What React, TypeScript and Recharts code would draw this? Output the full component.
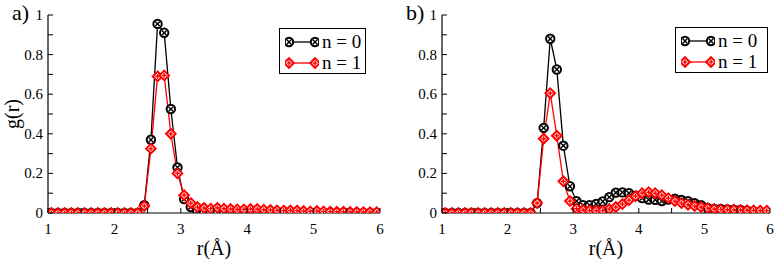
import { LineChart, Line, XAxis, YAxis } from "recharts";

const R = [
  1.05, 1.15, 1.25, 1.35, 1.45, 1.55, 1.65, 1.75, 1.85, 1.95,
  2.05, 2.15, 2.25, 2.35, 2.45, 2.55, 2.65, 2.75, 2.85, 2.95,
  3.05, 3.15, 3.25, 3.35, 3.45, 3.55, 3.65, 3.75, 3.85, 3.95,
  4.05, 4.15, 4.25, 4.35, 4.45, 4.55, 4.65, 4.75, 4.85, 4.95,
  5.05, 5.15, 5.25, 5.35, 5.45, 5.55, 5.65, 5.75, 5.85, 5.95,
];

const A_N0 = [
  0, 0, 0, 0, 0, 0, 0, 0, 0, 0,
  0, 0, 0, 0, 0.04, 0.37, 0.955, 0.91, 0.525, 0.23,
  0.07, 0.03, 0.01, 0.005, 0.003, 0.003, 0.002, 0.002, 0.001, 0.001,
  0, 0, 0, 0, 0, 0, 0, 0, 0, 0,
  0, 0, 0, 0, 0, 0, 0, 0, 0, 0,
];
const A_N1 = [
  0, 0, 0, 0, 0, 0, 0, 0, 0, 0,
  0, 0, 0, 0, 0.035, 0.325, 0.69, 0.695, 0.4, 0.2,
  0.09, 0.05, 0.03, 0.025, 0.022, 0.026, 0.022, 0.02, 0.018, 0.018,
  0.02, 0.02, 0.017, 0.015, 0.013, 0.012, 0.013, 0.012, 0.01, 0.008,
  0.01, 0.008, 0.007, 0.006, 0.006, 0.005, 0.005, 0.004, 0.004, 0.004,
];
const B_N0 = [
  0, 0, 0, 0, 0, 0, 0, 0, 0, 0,
  0, 0, 0, 0, 0.05, 0.43, 0.88, 0.725, 0.34, 0.135,
  0.06, 0.04, 0.04, 0.046, 0.058, 0.08, 0.103, 0.104, 0.1, 0.087,
  0.075, 0.068, 0.067, 0.06, 0.068, 0.072, 0.066, 0.06, 0.05, 0.04,
  0.026, 0.021, 0.02, 0.018, 0.017, 0.015, 0.012, 0.008, 0.004, 0.004,
];
const B_N1 = [
  0, 0, 0, 0, 0, 0, 0, 0, 0, 0,
  0, 0, 0, 0, 0.05, 0.375, 0.605, 0.39, 0.16, 0.06,
  0.022, 0.015, 0.012, 0.012, 0.012, 0.02, 0.03, 0.045, 0.065, 0.085,
  0.1, 0.105, 0.1, 0.09, 0.075, 0.06, 0.05, 0.042, 0.035, 0.03,
  0.025, 0.02, 0.018, 0.017, 0.016, 0.015, 0.014, 0.013, 0.012, 0.012,
];

const X_TICKS = [1, 1.5, 2, 2.5, 3, 3.5, 4, 4.5, 5, 5.5, 6];
const Y_TICKS = [0, 0.1, 0.2, 0.3, 0.4, 0.5, 0.6, 0.7, 0.8, 0.9, 1];
const X_LABELS = [1, 2, 3, 4, 5, 6];
const Y_LABELS = [0, 0.2, 0.4, 0.6, 0.8, 1];
const LEGEND = ["n = 0", "n = 1"];

const FONT = "Liberation Serif";
const TL = 5;

const CrossCircle = ({ cx, cy }: any) => (
  <g>
    <circle cx={cx} cy={cy} r={4.2} fill="#fff" stroke="#000" strokeWidth={2} />
    <line x1={cx - 2.4} y1={cy - 2.4} x2={cx + 2.4} y2={cy + 2.4} stroke="#000" strokeWidth={1.4} />
    <line x1={cx - 2.4} y1={cy + 2.4} x2={cx + 2.4} y2={cy - 2.4} stroke="#000" strokeWidth={1.4} />
  </g>
);

const PlusDiamond = ({ cx, cy }: any) => (
  <g>
    <path d={`M${cx},${cy - 4.8}L${cx + 4.8},${cy}L${cx},${cy + 4.8}L${cx - 4.8},${cy}Z`} fill="#fff" stroke="#f00" strokeWidth={2} />
    <line x1={cx - 2.4} y1={cy} x2={cx + 2.4} y2={cy} stroke="#f00" strokeWidth={1.4} />
    <line x1={cx} y1={cy - 2.4} x2={cx} y2={cy + 2.4} stroke="#f00" strokeWidth={1.4} />
  </g>
);

const labelStyle = { fontFamily: FONT, fontSize: 15 };

const BottomTick = ({ x, y, payload }: any) => (
  <g>
    <line x1={x} y1={y} x2={x} y2={y - TL} stroke="#000" />
    {X_LABELS.includes(payload.value) && (
      <text x={x} y={y + 21} textAnchor="middle" style={labelStyle} fill="#000">
        {payload.value}
      </text>
    )}
  </g>
);
const TopTick = ({ x, y }: any) => <line x1={x} y1={y} x2={x} y2={y + TL} stroke="#000" />;
const LeftTick = ({ x, y, payload }: any) => (
  <g>
    <line x1={x} y1={y} x2={x + TL} y2={y} stroke="#000" />
    {Y_LABELS.includes(payload.value) && (
      <text x={x - 5} y={y + 5} textAnchor="end" style={labelStyle} fill="#000">
        {payload.value}
      </text>
    )}
  </g>
);
const RightTick = ({ x, y }: any) => <line x1={x} y1={y} x2={x - TL} y2={y} stroke="#000" />;

function Panel({ n0, n1, yWidth }: { n0: number[]; n1: number[]; yWidth: number }) {
  const data = R.map((r, i) => ({ r, n0: n0[i], n1: n1[i] }));
  const axisLine = { stroke: "#000", strokeWidth: 1.2 };
  return (
    <LineChart width={390} height={259} data={data} margin={{ top: 15, right: 10, left: 0, bottom: 0 }}>
      <XAxis dataKey="r" type="number" domain={[1, 6]} ticks={X_TICKS} height={46} tickSize={0} tickMargin={0}
        axisLine={axisLine} tick={<BottomTick />} interval={0} allowDataOverflow />
      <XAxis xAxisId="t" orientation="top" dataKey="r" type="number" domain={[1, 6]} ticks={X_TICKS} height={0}
        tickSize={0} tickMargin={0} axisLine={axisLine} tick={<TopTick />} interval={0} allowDataOverflow />
      <YAxis type="number" domain={[0, 1]} ticks={Y_TICKS} width={yWidth} tickSize={0} tickMargin={0}
        axisLine={axisLine} tick={<LeftTick />} interval={0} allowDataOverflow />
      <YAxis yAxisId="r" orientation="right" type="number" domain={[0, 1]} ticks={Y_TICKS} width={0} tickSize={0}
        tickMargin={0} axisLine={axisLine} tick={<RightTick />} interval={0} allowDataOverflow />
      <Line dataKey="n0" stroke="#000" strokeWidth={1.3} isAnimationActive={false}
        dot={(p: any) => <CrossCircle key={`a${p.index}`} cx={p.cx} cy={p.cy} />} />
      <Line dataKey="n1" stroke="#f00" strokeWidth={1.3} isAnimationActive={false}
        dot={(p: any) => <PlusDiamond key={`b${p.index}`} cx={p.cx} cy={p.cy} />} />
    </LineChart>
  );
}

function LegendBox({ left, top, width, height }: { left: number; top: number; width: number; height: number }) {
  return (
    <div style={{ position: "absolute", left, top, width, height, border: "1px solid #000", background: "#fff", boxSizing: "border-box" }}>
      {LEGEND.map((label, i) => (
        <div key={label} style={{ position: "absolute", left: 5, top: 3 + i * 21, height: 20, display: "flex", alignItems: "center" }}>
          <svg width={34} height={20}>
            <line x1={3} y1={10} x2={31} y2={10} stroke={i === 0 ? "#000" : "#f00"} strokeWidth={1.3} />
            {i === 0 ? <CrossCircle cx={4} cy={10} /> : <PlusDiamond cx={4} cy={10} />}
            {i === 0 ? <CrossCircle cx={30} cy={10} /> : <PlusDiamond cx={30} cy={10} />}
          </svg>
          <span style={{ fontFamily: FONT, fontSize: 19, marginLeft: 3, whiteSpace: "nowrap" }}>{label}</span>
        </div>
      ))}
    </div>
  );
}

const textStyle = { position: "absolute" as const, fontFamily: FONT, color: "#000", whiteSpace: "nowrap" as const, lineHeight: 1 };

export default function App() {
  return (
    <div style={{ position: "absolute", left: 0, top: 0, width: 780, height: 259, background: "#fff", overflow: "hidden" }}>
      <div style={{ position: "absolute", left: 0, top: 0 }}>
        <Panel n0={A_N0} n1={A_N1} yWidth={48} />
      </div>
      <div style={{ position: "absolute", left: 390, top: 0 }}>
        <Panel n0={B_N0} n1={B_N1} yWidth={52} />
      </div>
      <LegendBox left={279} top={28} width={87} height={46} />
      <LegendBox left={675} top={27} width={93} height={46} />
      <div style={{ ...textStyle, left: 12, top: 2, fontSize: 22 }}>a)</div>
      <div style={{ ...textStyle, left: 406, top: 2, fontSize: 22 }}>b)</div>
      <div style={{ ...textStyle, left: 214, top: 238, fontSize: 20, transform: "translateX(-50%)" }}>r(Å)</div>
      <div style={{ ...textStyle, left: 606, top: 238, fontSize: 20, transform: "translateX(-50%)" }}>r(Å)</div>
      <div style={{ ...textStyle, left: 12, top: 114, fontSize: 20, transform: "translate(-50%, -50%) rotate(-90deg)" }}>g(r)</div>
    </div>
  );
}
